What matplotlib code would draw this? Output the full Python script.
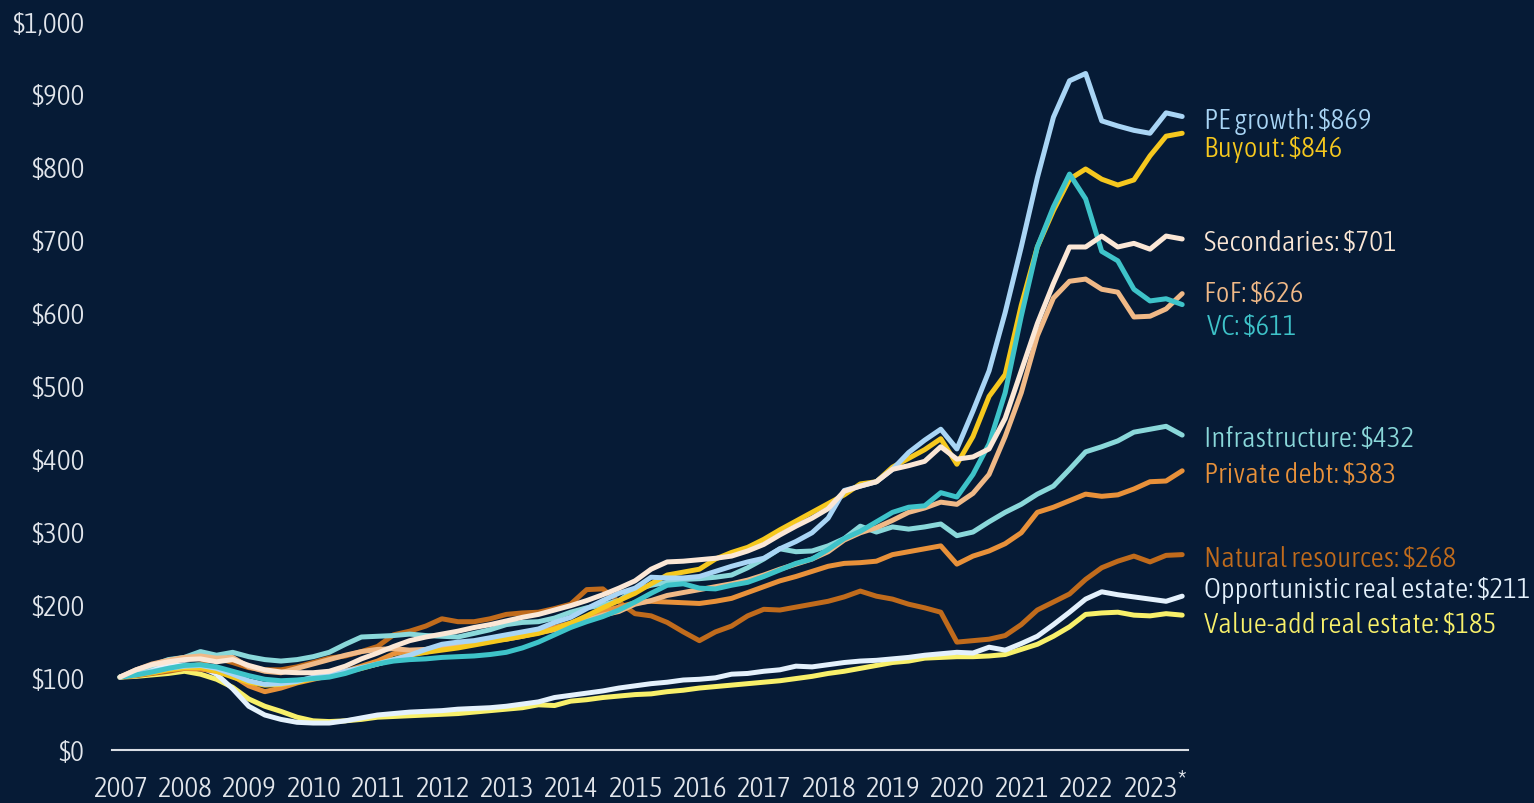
import matplotlib.pyplot as plt
import matplotlib.transforms as mtransforms
from matplotlib import font_manager as fm

# --- Data: quarterly value of $100 invested, 2007 Q1 -> 2023 Q3 ---
years = [2007 + i / 4 for i in range(67)]

pe_growth = [100, 104, 108, 112, 115, 116, 112, 104, 95, 90, 91, 94, 100, 104, 108, 113, 118, 124, 130, 138,
             145, 148, 150, 154, 158, 162, 166, 175, 182, 194, 205, 215, 222, 237, 236, 236, 238, 245, 252, 258,
             263, 276, 286, 298, 318, 356, 362, 368, 385, 408, 425, 440, 413, 465, 520, 600, 690, 785, 868, 918,
             928, 863, 856, 850, 846, 874, 869]
buyout = [100, 103, 106, 110, 113, 113, 108, 100, 93, 89, 90, 93, 98, 102, 107, 112, 118, 124, 130, 134,
          137, 140, 144, 148, 152, 156, 160, 166, 174, 184, 195, 205, 215, 228, 240, 244, 248, 262, 271, 278,
          289, 302, 314, 326, 338, 350, 365, 368, 388, 400, 412, 427, 392, 430, 485, 515, 610, 690, 740, 783,
          797, 783, 775, 782, 815, 842, 846]
secondaries = [100, 110, 117, 121, 124, 125, 121, 124, 116, 110, 107, 106, 106, 108, 115, 125, 133, 142, 150, 155,
               159, 163, 168, 172, 177, 182, 186, 192, 198, 205, 213, 222, 232, 248, 258, 259, 261, 263, 266, 273,
               282, 295, 307, 318, 331, 355, 362, 368, 385, 390, 396, 416, 399, 402, 413, 455, 520, 585, 640, 690,
               690, 705, 690, 695, 687, 705, 701]
fof = [100, 110, 118, 123, 127, 129, 126, 127, 114, 108, 106, 112, 118, 124, 130, 135, 138, 139, 137, 138,
       141, 144, 147, 150, 152, 156, 161, 165, 170, 178, 185, 190, 200, 205, 212, 216, 220, 224, 228, 233,
       240, 248, 255, 262, 272, 288, 298, 305, 315, 326, 332, 340, 337, 352, 378, 430, 490, 568, 620, 643,
       646, 632, 628, 594, 595, 605, 626]
vc = [100, 103, 107, 112, 116, 117, 114, 108, 102, 97, 95, 96, 98, 100, 105, 112, 118, 122, 124, 125,
      127, 128, 129, 131, 134, 140, 148, 158, 168, 176, 183, 192, 203, 215, 226, 228, 222, 221, 226, 230,
      238, 247, 256, 262, 275, 290, 300, 313, 326, 333, 335, 353, 347, 378, 420, 490, 595, 690, 745, 790,
      756, 684, 671, 632, 616, 619, 611]
infrastructure = [100, 108, 116, 124, 127, 135, 130, 134, 128, 124, 122, 124, 128, 134, 145, 155, 156, 157, 159, 157,
                  156, 155, 160, 165, 172, 175, 176, 181, 189, 195, 199, 205, 220, 226, 230, 234, 235, 237, 240, 250,
                  262, 276, 272, 273, 280, 290, 307, 299, 306, 303, 306, 310, 294, 299, 313, 326, 337, 351, 362, 385,
                  409, 416, 424, 436, 440, 444, 432]
private_debt = [100, 103, 106, 110, 112, 111, 108, 102, 88, 80, 85, 92, 97, 102, 108, 115, 122, 132, 136, 134,
                140, 145, 148, 152, 156, 160, 164, 168, 174, 182, 190, 196, 202, 204, 203, 202, 201, 204, 208, 216,
                224, 232, 238, 245, 252, 256, 257, 259, 268, 272, 276, 280, 255, 266, 273, 283, 298, 326, 333, 342,
                351, 348, 350, 358, 368, 369, 383]
natural_resources = [100, 102, 105, 108, 112, 118, 126, 120, 113, 110, 110, 114, 120, 126, 129, 135, 142, 158, 163, 170,
                     180, 176, 176, 180, 186, 188, 189, 194, 200, 220, 221, 203, 187, 184, 175, 162, 150, 162, 170, 184,
                     193, 192, 196, 200, 204, 210, 218, 211, 207, 200, 195, 189, 148, 150, 152, 157, 172, 192, 203, 214,
                     234, 250, 259, 266, 258, 267, 268]
opportunistic_re = [100, 107, 112, 116, 117, 114, 104, 84, 60, 48, 42, 38, 37, 37, 40, 44, 48, 50, 52, 53,
                    54, 56, 57, 58, 60, 63, 66, 72, 75, 78, 81, 85, 88, 91, 93, 96, 97, 99, 104, 105,
                    108, 110, 115, 114, 117, 120, 122, 123, 125, 127, 130, 132, 134, 133, 141, 137, 146, 156, 172, 189,
                    207, 217, 213, 210, 207, 204, 211]
value_add_re = [100, 101, 103, 105, 108, 104, 97, 86, 70, 60, 53, 45, 40, 39, 40, 42, 45, 46, 47, 48,
                49, 50, 52, 54, 56, 58, 62, 61, 67, 69, 72, 74, 76, 77, 80, 82, 85, 87, 89, 91,
                93, 95, 98, 101, 105, 108, 112, 116, 120, 122, 126, 127, 128, 128, 129, 131, 138, 145, 156, 169,
                186, 188, 189, 185, 184, 187, 185]

labels = ["PE growth: $869", "Buyout: $846", "Secondaries: $701", "FoF: $626", "VC: $611",
          "Infrastructure: $432", "Private debt: $383", "Natural resources: $268",
          "Opportunistic real estate: $211", "Value-add real estate: $185"]
label_base = [853, 815, 686, 616, 571, 417, 368, 252, 210, 162]   # baseline of each end label, in $

bg = "#061b36"
colors = {
    "pe": "#a9d5f5", "buyout": "#f6c81e", "sec": "#fbe7d6", "fof": "#f0b987", "vc": "#3ec3c9",
    "infra": "#8ad8da", "pdebt": "#e8913a", "natres": "#c06b1c", "opp": "#e4f1fc", "va": "#f8f06a",
}

# drawing order (bottom -> top)
series = [
    (value_add_re, "va"), (opportunistic_re, "opp"), (natural_resources, "natres"),
    (private_debt, "pdebt"), (infrastructure, "infra"), (fof, "fof"), (buyout, "buyout"),
    (pe_growth, "pe"), (vc, "vc"), (secondaries, "sec"),
]
label_keys = ["pe", "buyout", "sec", "fof", "vc", "infra", "pdebt", "natres", "opp", "va"]


# --- pick a narrow, light sans font if one is installed ---
def pick_font():
    best, best_score = None, -1
    for f in fm.fontManager.ttflist:
        fn = f.fname.lower()
        if "mono" in fn or "serif" in fn or "italic" in fn or "oblique" in fn:
            continue
        narrow = f.stretch not in ("normal", 500) or "condensed" in fn or "narrow" in fn or "cond" in fn
        if not narrow or "extra" in fn and "condensed" in fn and "extralight" not in fn:
            continue
        w = f.weight if isinstance(f.weight, int) else {"light": 300, "normal": 400, "regular": 400}.get(f.weight, 500)
        score = {300: 5, 400: 4, 350: 4, 200: 3}.get(w, 1)
        if score > best_score:
            best, best_score = f, score
    if best is not None:
        return fm.FontProperties(fname=best.fname)
    names = {f.name for f in fm.fontManager.ttflist}
    if "Roboto" in names:
        return fm.FontProperties(family="Roboto", weight="light")
    return fm.FontProperties(family="DejaVu Sans")


font = pick_font()

fig = plt.figure(figsize=(15.34, 8.04), dpi=100, facecolor=bg)
ax = fig.add_axes([112 / 1534, 1 - 751 / 804, 1076 / 1534, 729 / 804])
ax.set_facecolor(bg)

for vals, key in series:
    ax.plot(years, vals, color=colors[key], lw=3.6, solid_capstyle="round",
            solid_joinstyle="round", clip_on=False)

ax.set_xlim(2007 - 8 / 64.375, 2007 + 1068 / 64.375)
ax.set_ylim(0, 1000)

for s in ["top", "right", "left"]:
    ax.spines[s].set_visible(False)
ax.spines["bottom"].set_color("#d8dde4")
ax.spines["bottom"].set_linewidth(1.5)

ax.set_yticks(range(0, 1001, 100))
ax.set_yticklabels(["${:,}".format(v) for v in range(0, 1001, 100)])
ax.set_xticks(range(2007, 2024))
ax.set_xticklabels([str(y) for y in range(2007, 2024)])
ax.tick_params(axis="both", length=0, colors="#e2e6ec")
ax.tick_params(axis="y", pad=20)
ax.tick_params(axis="x", pad=18)

# end labels, x in figure pixels / y in data
trans = mtransforms.blended_transform_factory(fig.transFigure, ax.transData)
texts = []
for text, yv, key in zip(labels, label_base, label_keys):
    dx = 1207 if key == "vc" else 1204
    texts.append(ax.text(dx / 1534, yv, text, transform=trans, color=colors[key],
                         fontproperties=font, fontsize=20, ha="left", va="baseline"))

star = ax.annotate("*", xy=(2023, 0), xycoords="data", xytext=(20, -22), textcoords="offset points",
                   color="#e2e6ec", fontproperties=font, fontsize=21, ha="left", va="center",
                   annotation_clip=False)

# size the text so the longest label spans about 326 px, as in the reference
renderer = fig.canvas.get_renderer()
w = texts[8].get_window_extent(renderer).width
size = max(13, min(22, 20 * 326 / w))
for t in texts:
    t.set_fontsize(size)
for lab in ax.get_xticklabels() + ax.get_yticklabels():
    lab.set_fontproperties(font)
    lab.set_fontsize(size)

fig.savefig("out.png", dpi=100, facecolor=bg)
